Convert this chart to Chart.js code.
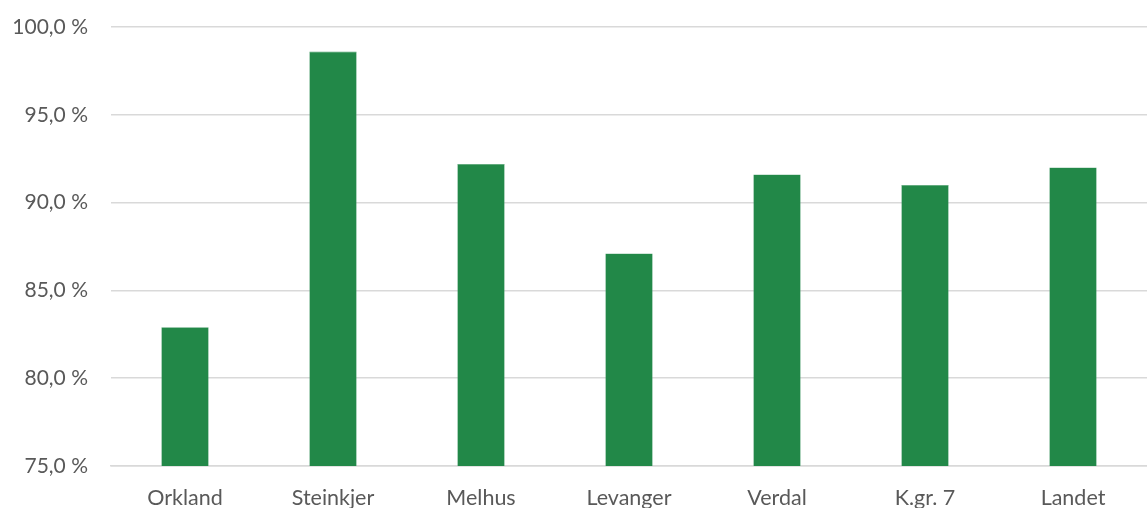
<!DOCTYPE html>
<html>
<head>
<meta charset="utf-8">
<script src="https://cdn.jsdelivr.net/npm/chart.js@4/dist/chart.umd.min.js"></script>
<style>
html,body{margin:0;padding:0;background:#fff;}
#wrap{width:1147px;height:508px;position:relative;}
</style>
</head>
<body>
<div id="wrap"><canvas id="c" width="1147" height="508"></canvas></div>
<script>
const categories = ["Orkland", "Steinkjer", "Melhus", "Levanger", "Verdal", "K.gr. 7", "Landet"];
const values = [82.9, 98.6, 92.2, 87.1, 91.6, 91.0, 92.0];
const yMin = 75, yMax = 100, yStep = 5;

Chart.defaults.font.family = "Lato, 'Open Sans', sans-serif";
Chart.defaults.color = "#595959";

new Chart(document.getElementById('c'), {
  type: 'bar',
  data: {
    labels: categories,
    datasets: [{
      data: values,
      backgroundColor: '#228848',
      borderColor: '#4fa06f',
      borderWidth: 0.6,
      categoryPercentage: 1.0,
      barPercentage: 0.32
    }]
  },
  options: {
    responsive: false,
    animation: false,
    layout: { padding: { top: 27, right: 0, left: 0, bottom: 0 } },
    plugins: { legend: { display: false }, tooltip: { enabled: false } },
    scales: {
      x: {
        grid: { display: false, drawTicks: false },
        border: { display: true, color: '#d9d9d9', width: 1.5 },
        ticks: { font: { size: 21.5 }, color: '#595959', padding: 19 },
        afterFit: s => { s.height = 42; s.paddingLeft = 0; s.paddingRight = 0; }
      },
      y: {
        min: yMin, max: yMax,
        grid: { color: '#d9d9d9', lineWidth: 1.5, drawTicks: false },
        border: { display: false },
        ticks: {
          stepSize: yStep,
          font: { size: 21 },
          color: '#595959',
          padding: 23,
          callback: v => v.toFixed(1).replace('.', ',') + ' %'
        },
        afterFit: s => { s.width = 111; s.paddingTop = 0; s.paddingBottom = 0; }
      }
    }
  }
});
</script>
</body>
</html>
